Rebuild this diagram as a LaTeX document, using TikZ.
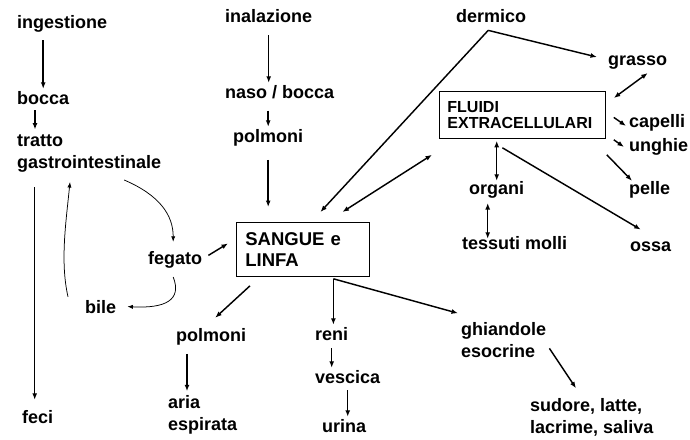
\documentclass[tikz,border=0pt]{standalone}
\usepackage{fontspec}
\setmainfont{Liberation Sans}
\usetikzlibrary{arrows.meta,positioning,calc}
\tikzset{
  lbl/.style={font=\fontsize{18}{21.5}\selectfont\bfseries, inner sep=2pt,
              anchor=base west, align=left},
  blood/.style={draw, line width=0.8pt, anchor=north west, align=left,
              font=\fontsize{18.5}{21.7}\selectfont\bfseries,
              inner xsep=9pt, inner ysep=0pt, text width=115pt, minimum height=54pt},
  fluid/.style={draw, line width=0.8pt, anchor=north west, align=left,
              font=\fontsize{16}{16}\selectfont\bfseries,
              inner xsep=8pt, inner ysep=0pt, text width=150pt, minimum height=47pt},
  arr/.style={-{Latex[length=6.5pt,width=5pt]}, line width=1.45pt},
  darr/.style={{Latex[length=6.5pt,width=5pt]}-{Latex[length=6.5pt,width=5pt]}, line width=1.45pt},
  thn/.style={-{Latex[length=5.5pt,width=4.2pt]}, line width=0.75pt},
}
\begin{document}
\begin{tikzpicture}[x=1pt, y=-1pt]
  \useasboundingbox (0,0) rectangle (690,439);
  % ingestione column
  \node[lbl] (ingest) at (15,28) {ingestione};
  \node[lbl] (boccaA) at (15,104) {bocca};
  \node[lbl] (tratto) at (15,168) {tratto\\gastrointestinale};
  \node[lbl] (feci) at (20,423) {feci};
  \node[lbl] (fegato) at (146,264) {fegato};
  \node[lbl] (bile) at (83,313) {bile};
  % inalazione column
  \node[lbl] (inal) at (223,22) {inalazione};
  \node[lbl] (naso) at (223,98) {naso / bocca};
  \node[lbl] (polmA) at (231,142) {polmoni};
  \node[blood] (sangue) at (236,222) {SANGUE e\\LINFA};
  \node[lbl] (polmB) at (174,341) {polmoni};
  \node[lbl] (aria) at (166,430) {aria\\espirata};
  \node[lbl] (reni) at (313,340) {reni};
  \node[lbl] (vescica) at (313,383) {vescica};
  \node[lbl] (urina) at (320,432) {urina};
  \node[lbl] (ghiand) at (459,357) {ghiandole\\esocrine};
  \node[lbl] (sudore) at (528,433) {sudore, latte,\\lacrime, saliva};
  % dermico column
  \node[lbl] (dermico) at (454,23) {dermico};
  \node[fluid] (fluidi) at (439,91) {FLUIDI\\EXTRACELLULARI};
  \node[lbl] (grasso) at (606,65) {grasso};
  \node[lbl] (capelli) at (627,127) {capelli};
  \node[lbl] (unghie) at (627,151) {unghie};
  \node[lbl] (pelle) at (627,194) {pelle};
  \node[lbl] (organi) at (467,194) {organi};
  \node[lbl] (tessuti) at (460,249) {tessuti molli};
  \node[lbl] (ossa) at (628,251) {ossa};

  % digestive route
  \draw[arr, shorten <=6pt] (ingest.south -| boccaA) -- (boccaA.north);
  \draw[arr, shorten <=4pt, shorten >=3pt] ([xshift=20pt]boccaA.south west) -- ([xshift=20pt]tratto.north west);
  \draw[arr, shorten <=13pt, shorten >=8pt] ([xshift=-3pt]feci.north |- tratto.south) -- ([xshift=-3pt]feci.north);
  \draw[thn] ([shift={(35,6)}]tratto.south) .. controls +(35,15) and +(0,-27) .. ([shift={(-2,-7)}]fegato.north);
  \draw[arr] ([shift={(4,-4)}]fegato.east) -- ([shift={(-8,-6)}]sangue.west);
  \draw[thn] ([shift={(-2,7)}]fegato.south) .. controls +(9,23) and +(38,2) .. ([shift={(9,0)}]bile.east);
  \draw[thn] ([shift={(-15,-1)}]bile.north west) .. controls +(-8,-35) and +(-4,40) .. ([shift={(55,8)}]tratto.south west);

  % inhalation route
  \draw[arr, shorten <=11pt] (inal.south) -- (inal.south |- naso.north);
  \draw[arr, shorten <=10pt] (polmA.north |- naso.south) -- (polmA.north);
  \draw[arr, shorten <=12pt, shorten >=15pt] (polmA.south) -- (polmA.south |- sangue.north);

  % dermal route and distribution
  \coordinate (dj) at ([shift={(-3,5)}]dermico.south);
  \draw[arr] (dj) -- ([shift={(17.5,-10)}]sangue.north);
  \draw[arr] (dj) -- ([shift={(-9,-5)}]grasso.west);
  \draw[darr] ([shift={(39.5,-10)}]sangue.north) -- ([shift={(-7,16)}]fluidi.south west);
  \draw[darr] ([shift={(10,2)}]grasso.south) -- ([shift={(8,7)}]fluidi.north east);
  \draw[arr] ([shift={(8,2.5)}]fluidi.east) -- ([shift={(-1,3.6)}]capelli.west);
  \draw[arr] ([shift={(8,1)}]fluidi.south east) -- ([shift={(-3,0.6)}]unghie.west);
  \draw[arr] ([shift={(1,16)}]fluidi.south east) -- ([shift={(5,2)}]pelle.north west);
  \draw[darr, shorten <=2pt, shorten >=-2pt] (organi.north |- fluidi.south) -- (organi.north);
  \draw[darr, shorten <=3pt, shorten >=-5pt] ([xshift=-9pt]organi.south) -- ([xshift=-9pt]organi.south |- tessuti.north);
  \draw[arr] ([shift={(-20,9)}]fluidi.south) -- ([shift={(-10,-9.5)}]ossa.north);

  % elimination
  \draw[arr] ([shift={(14,9)}]sangue.south west) -- ([shift={(4,-8)}]polmB.north);
  \draw[arr, shorten <=7pt, shorten >=2pt] ([xshift=21pt]aria.north west |- polmB.south) -- ([xshift=21pt]aria.north west);
  \coordinate (sj) at ([shift={(30.5,2)}]sangue.south);
  \draw[arr] (sj) -- (sj |- reni.north);
  \draw[arr] (sj) -- ([shift={(-1,-7)}]ghiand.north west);
  \draw[arr, shorten <=6pt] (reni.south) -- (reni.south |- vescica.north);
  \draw[arr, shorten <=5pt] (vescica.south) -- (vescica.south |- urina.north);
  \draw[arr] ([shift={(1,-11)}]ghiand.south east) -- ([shift={(48,-8)}]sudore.north west);
\end{tikzpicture}
\end{document}
